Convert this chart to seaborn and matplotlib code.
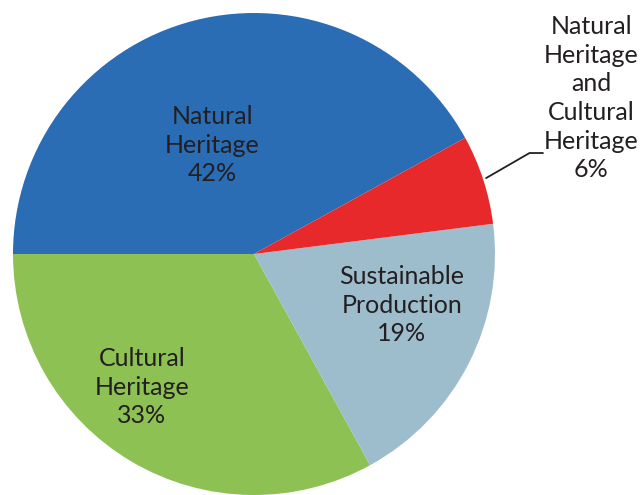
import matplotlib
matplotlib.use("Agg")
import matplotlib.pyplot as plt
import seaborn as sns

sns.set_theme(style="white")
plt.rcParams['font.family'] = ['Lato', 'DejaVu Sans']

# data
categories = ['Natural\nHeritage', 'Cultural\nHeritage', 'Sustainable\nProduction',
              'Natural\nHeritage\nand\nCultural\nHeritage']
shares = [42, 33, 19, 6]
colors = ['#2a6db5', '#8dc153', '#9dbdcd', '#e8292b']

fig = plt.figure(figsize=(6.41, 4.95), dpi=100)
ax = fig.add_axes([13 / 641, 0.0, 482 / 641, 482 / 495])

wedges, _ = ax.pie(shares, colors=colors, startangle=28.8, counterclock=True,
                   radius=1.0, wedgeprops=dict(linewidth=0))
ax.set_xlim(-1, 1)
ax.set_ylim(-1, 1)
ax.set_aspect('equal')
ax.axis('off')

txt = dict(ha='center', va='center', fontsize=18, color='#231f20', linespacing=1.3)

# labels inside the big slices
inner_pos = [(-0.174, 0.452), (-0.465, -0.552), (0.614, -0.212)]
for (x, y), name, val in zip(inner_pos, categories[:3], shares[:3]):
    ax.text(x, y, f"{name}\n{val}%", **txt)

# small slice gets an outside label with leader line
ax.text(1.40, 0.647, f"{categories[3]}\n{shares[3]}%", **txt)
ax.annotate('', xy=(0.963, 0.315), xytext=(1.199, 0.419),
            arrowprops=dict(arrowstyle='-', color='#231f20', lw=1.3,
                            connectionstyle='angle,angleA=0,angleB=30,rad=0',
                            shrinkA=0, shrinkB=0),
            annotation_clip=False)

fig.savefig('out.png', dpi=100)
